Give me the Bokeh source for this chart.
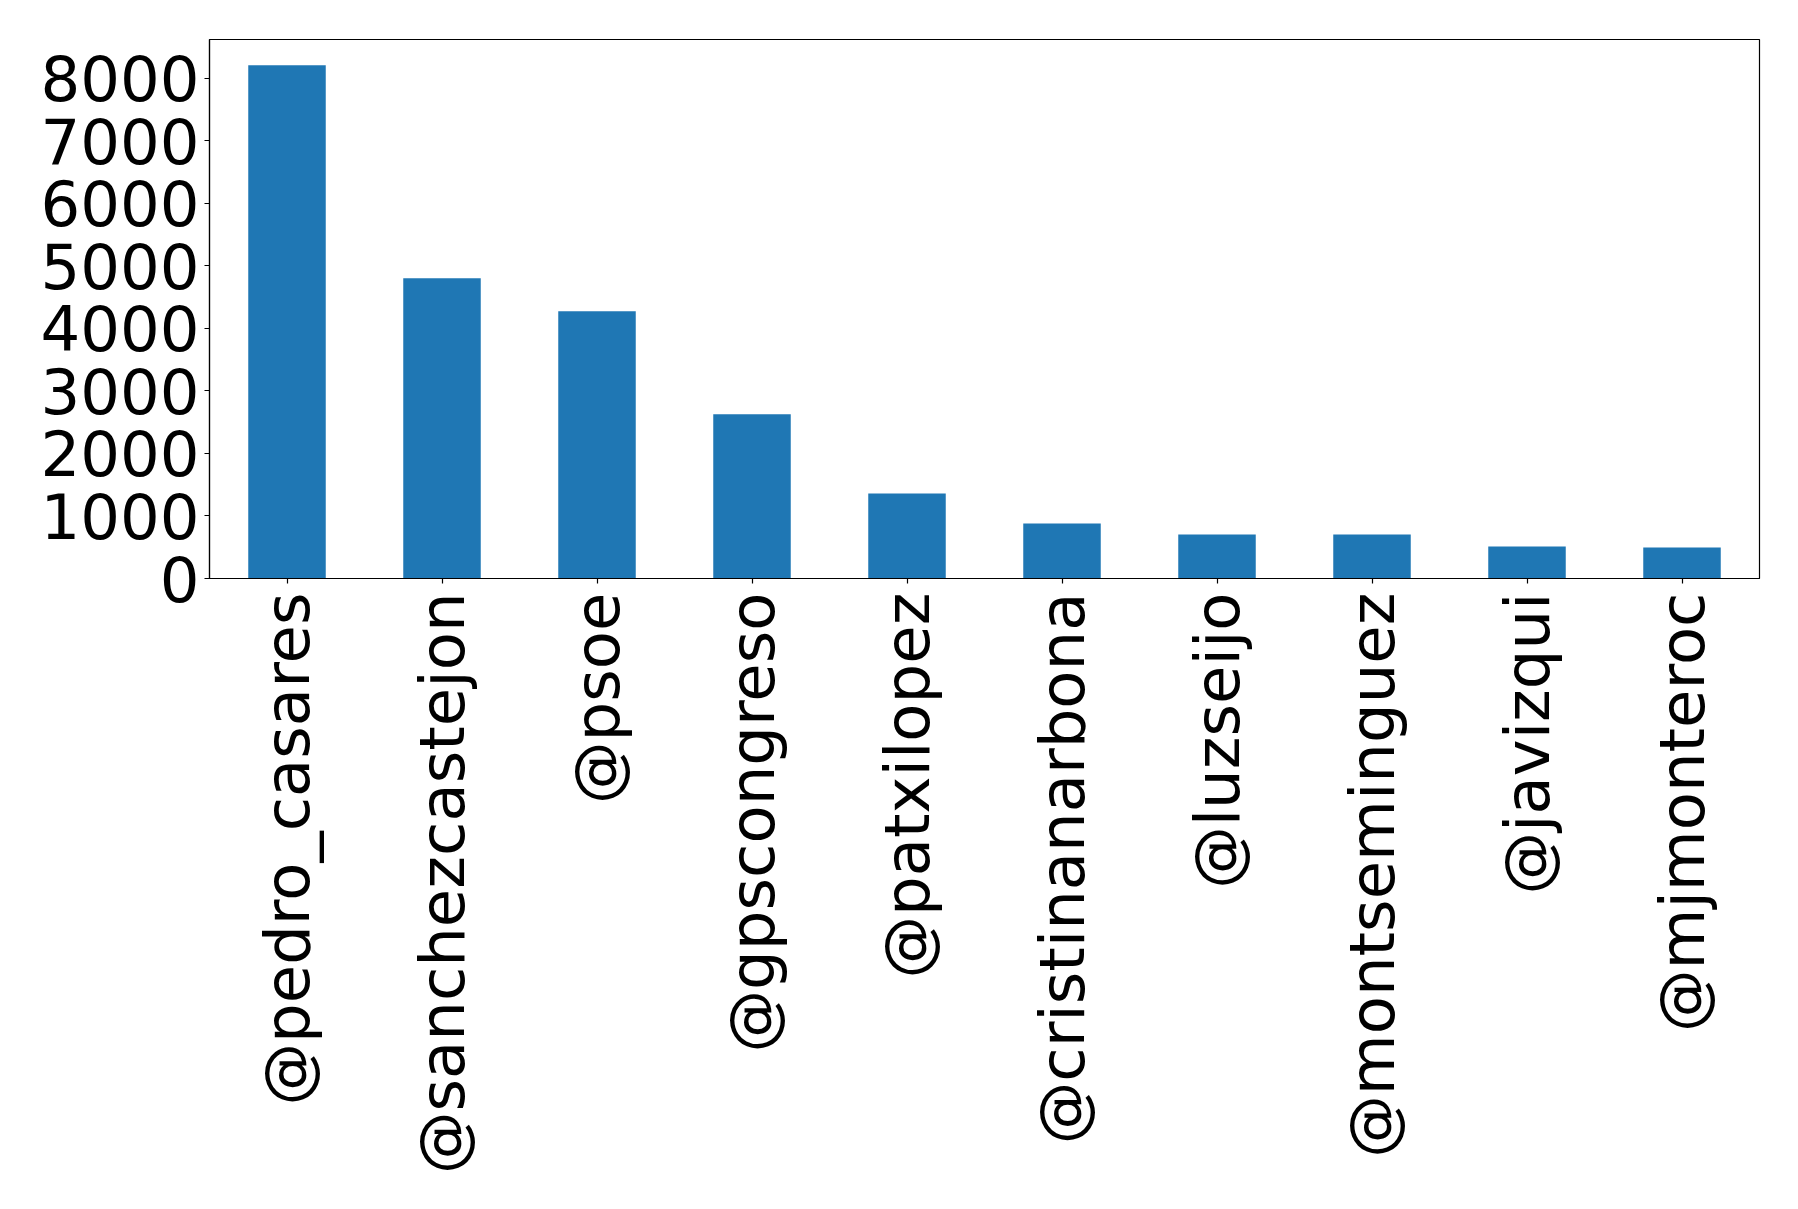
from bokeh.plotting import figure
from bokeh.models import Range1d, FixedTicker, ColumnDataSource
from bokeh.embed import file_html
from bokeh.resources import INLINE
import math

# Mentions per account
accounts = ["@pedro_casares", "@sanchezcastejon", "@psoe", "@gpscongreso",
            "@patxilopez", "@cristinanarbona", "@luzseijo", "@montseminguez",
            "@javizqui", "@mjmonteroc"]
counts = [8213, 4803, 4275, 2626, 1361, 880, 704, 704, 512, 496]
y_ticks = [0, 1000, 2000, 3000, 4000, 5000, 6000, 7000, 8000]

FONT = "DejaVu Sans"
BAR_COLOR = "#1f77b4"

source = ColumnDataSource(data=dict(account=accounts, count=counts))

p = figure(
    x_range=accounts,
    y_range=Range1d(0, max(counts) * 1.05),
    width=1798, height=1209,
    frame_width=1550, frame_height=539,
    min_border_left=209, min_border_right=39,
    min_border_top=39, min_border_bottom=631,
    output_backend="svg", toolbar_location=None,
)
p.x_range.range_padding = 0

p.vbar(x="account", top="count", width=0.5, source=source,
       fill_color=BAR_COLOR, line_color=None)

p.background_fill_color = "white"
p.border_fill_color = "white"
p.outline_line_color = "black"
p.outline_line_width = 1.2
p.outline_line_alpha = 1.0
p.xgrid.visible = False
p.ygrid.visible = False

for ax in (p.xaxis[0], p.yaxis[0]):
    ax.axis_line_color = "black"
    ax.axis_line_width = 1.2
    ax.major_tick_line_color = "black"
    ax.major_tick_line_width = 1.2
    ax.major_tick_in = 0
    ax.major_tick_out = 5
    ax.minor_tick_line_color = None
    ax.major_label_text_font = FONT
    ax.major_label_text_font_size = "62.5px"
    ax.major_label_text_color = "black"

p.yaxis[0].major_label_standoff = 5
p.xaxis[0].major_label_standoff = 9
p.yaxis[0].ticker = FixedTicker(ticks=y_ticks)
p.xaxis[0].major_label_orientation = math.pi / 2

open("out.html", "w").write(file_html(p, INLINE))
